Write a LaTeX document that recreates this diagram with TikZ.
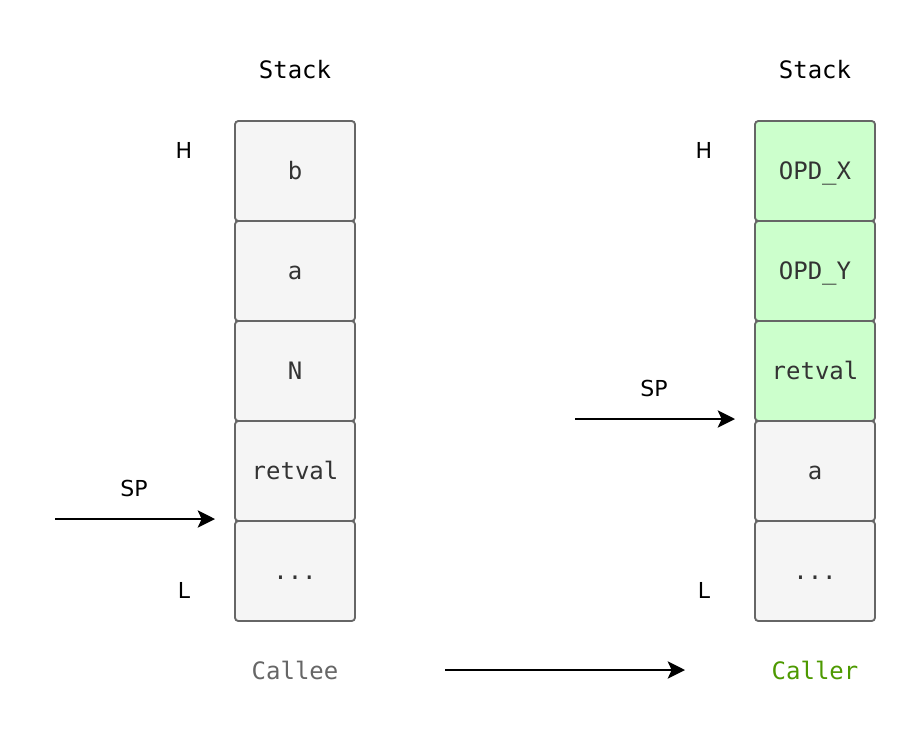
\documentclass[tikz,border=0pt]{standalone}
\usepackage{fontspec}
\setmainfont{DejaVu Sans}
\setmonofont{DejaVu Sans Mono}
\usepackage{tikz}
\usetikzlibrary{arrows.meta,positioning}
\definecolor{cellgray}{HTML}{F5F5F5}
\definecolor{cellline}{HTML}{666666}
\definecolor{cellgreen}{HTML}{CCFFCC}
\definecolor{callergreen}{HTML}{4D9900}

\begin{document}
\begin{tikzpicture}[x=0.75pt,y=-0.75pt,
cell/.style={
% The shape:
rectangle,rounded corners=2.5pt,
% The size:
minimum width=90pt,minimum height=75pt,outer sep=0pt,
text height=12pt,text depth=0pt,
% The border:
line width=1.4pt,draw=cellline,
% The filling:
fill=cellgray,
% Font
text=black!80,font=\ttfamily\fontsize{18}{20}\selectfont
}, newcell/.style={
% same cell, green filling
cell,fill=cellgreen},
title/.style={font=\ttfamily\fontsize{18}{20}\selectfont},
side/.style={font=\fontsize{16.5}{18}\selectfont},
ptr/.style={line width=1.5pt,-{Stealth[length=13pt,width=13pt,inset=3pt]}}]

\useasboundingbox (0,0) rectangle (916,742);

% Callee stack
\node (b) [cell] at (295,171) {b};
\node (a) [cell, below=0pt of b] {a};
\node (n) [cell, below=0pt of a] {N};
\node (r) [cell, below=0pt of n] {retval};
\node (d) [cell, below=0pt of r] {...};

% Caller stack
\node (ox) [newcell] at (815,171) {OPD\_X};
\node (oy) [newcell, below=0pt of ox] {OPD\_Y};
\node (rv) [newcell, below=0pt of oy] {retval};
\node (ra) [cell, below=0pt of rv] {a};
\node (rd) [cell, below=0pt of ra] {...};

% labels
\node (st1) [title] at (295,70) {Stack};
\node (st2) [title] at (815,70) {Stack};
\node (h1) [side] at (184,150) {H};
\node (l1) [side] at (184,590) {L};
\node (h2) [side] at (704,150) {H};
\node (l2) [side] at (704,590) {L};
\node (sp1) [side] at (134,488) {SP};
\node (sp2) [side] at (654,388) {SP};
\node (ce) [title, text=cellline] at (295,670) {Callee};
\node (cr) [title, text=callergreen] at (815,670) {Caller};

\coordinate (s1) at (55,519);
\coordinate (e1) at (215,519);
\coordinate (s2) at (575,419);
\coordinate (e2) at (735,419);
\coordinate (s3) at (445,670);
\coordinate (e3) at (685,670);

\path (s1) edge[ptr] (e1);
\path (s2) edge[ptr] (e2);
\path (s3) edge[ptr] (e3);
\end{tikzpicture}
\end{document}
